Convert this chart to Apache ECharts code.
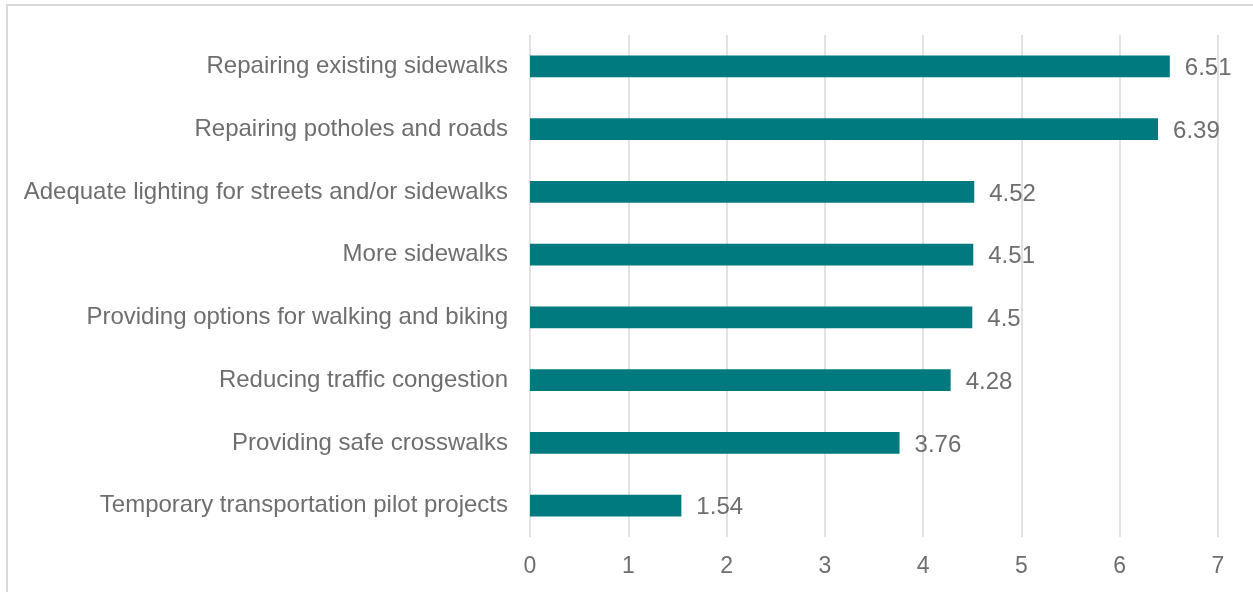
<!DOCTYPE html>
<html lang="en">
<head>
    <meta charset="UTF-8">
    <script src="https://cdn.jsdelivr.net/npm/echarts@6/dist/echarts.min.js"></script>
    <style>
        html, body { margin: 0; padding: 0; background: #fff; }
        #chart { width: 1253px; height: 592px; }
    </style>
</head>
<body>
<div id="chart"></div>
<script>
    // top to bottom, as in the picture
    var categories = [
        'Repairing existing sidewalks',
        'Repairing potholes and roads',
        'Adequate lighting for streets and/or sidewalks',
        'More sidewalks',
        'Providing options for walking and biking',
        'Reducing traffic congestion',
        'Providing safe crosswalks',
        'Temporary transportation pilot projects'
    ];
    var scores = [6.51, 6.39, 4.52, 4.51, 4.5, 4.28, 3.76, 1.54];
    var xTicks = [0, 1, 2, 3, 4, 5, 6, 7];

    var chart = echarts.init(document.getElementById('chart'));
    chart.setOption({
        animation: false,
        textStyle: { fontFamily: 'Liberation Sans, Arial, sans-serif' },
        graphic: [{
            type: 'rect',
            shape: { x: 7, y: 5, width: 1300, height: 700 },
            style: { fill: 'none', stroke: '#d9d9d9', lineWidth: 2 },
            silent: true
        }],
        grid: { left: 530, right: 35, top: 35, bottom: 55, containLabel: false },
        xAxis: {
            type: 'value',
            min: xTicks[0],
            max: xTicks[xTicks.length - 1],
            interval: 1,
            axisLine: { show: false },
            axisTick: { show: false },
            axisLabel: { color: '#6e6e6e', fontSize: 23, margin: 18 },
            splitLine: { lineStyle: { color: '#d9d9d9', width: 1.5 } }
        },
        yAxis: {
            type: 'category',
            inverse: true,
            data: categories,
            axisLine: { show: false },
            axisTick: { show: false },
            axisLabel: { color: '#6e6e6e', fontSize: 24, margin: 22, padding: [4, 0, 0, 0] }
        },
        series: [{
            type: 'bar',
            data: scores,
            barCategoryGap: '65%',
            itemStyle: { color: '#007a7f' },
            label: {
                show: true,
                position: 'right',
                distance: 15,
                offset: [0, 2],
                color: '#6e6e6e',
                fontSize: 24
            }
        }]
    });
</script>
</body>
</html>
